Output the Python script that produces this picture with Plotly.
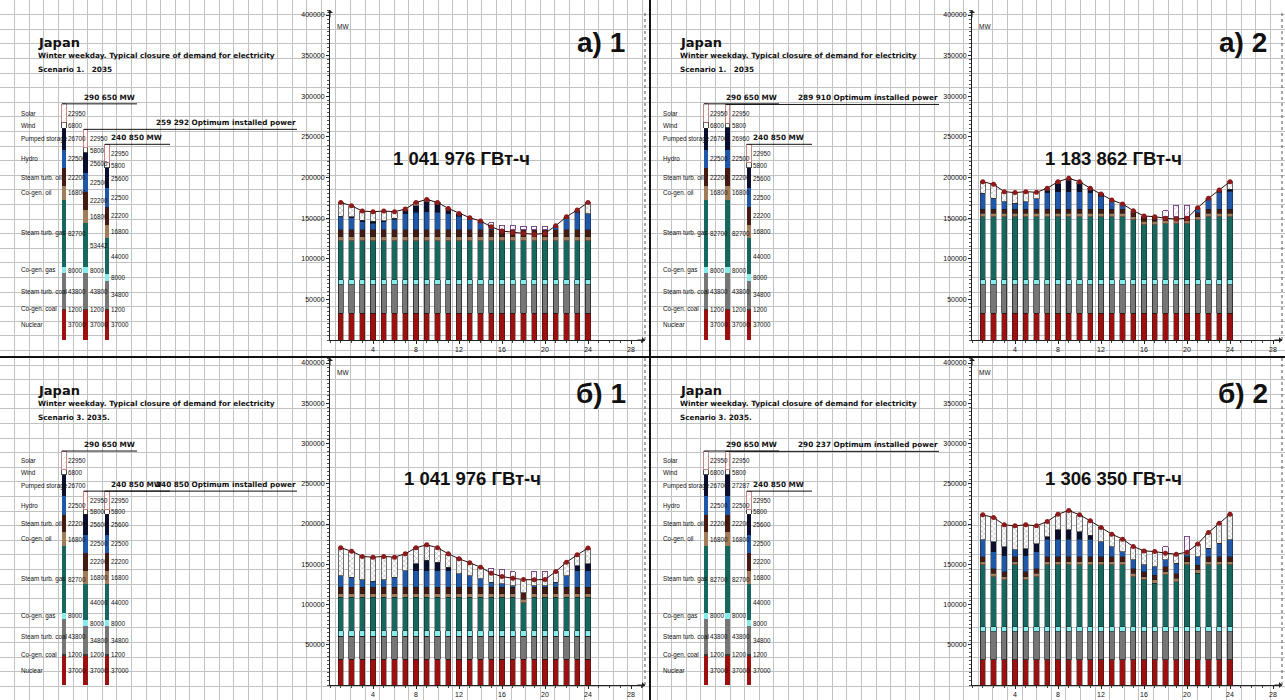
import plotly.graph_objects as go

# ---------------- DATA ----------------
HOURS = [1, 2, 3, 4, 5, 6, 7, 8, 9, 10, 11, 12, 13, 14, 15, 16, 17, 18, 19, 20, 21, 22, 23, 24]
X_TICKS = [4, 8, 12, 16, 20, 24, 28]
Y_TICKS = [50000, 100000, 150000, 200000, 250000, 300000, 350000, 400000]

CATEGORIES = ["Nuclear", "Co-gen. coal", "Steam turb. coal", "Co-gen. gas", "Steam turb. gas",
              "Co-gen. oil", "Steam turb. oil", "Hydro", "Pumped storage", "Wind", "Solar"]
COLUMNS = ["max", "opt", "min"]

# installed capacity columns, bottom -> top, MW
CAP_MAX = [37000, 1200, 43800, 8000, 82700, 16800, 22200, 22500, 26700, 6800, 22950]
CAP_MIN = [37000, 1200, 34800, 8000, 44000, 16800, 22200, 22500, 25600, 5800, 22950]
CAP_OPT_A1 = [37000, 1200, 43800, 8000, 53442, 16800, 22200, 22500, 25600, 5800, 22950]
CAP_OPT_A2 = [37000, 1200, 43800, 8000, 82700, 16800, 22200, 22500, 26960, 5800, 22950]
CAP_OPT_B1 = [37000, 1200, 34800, 8000, 44000, 16800, 22200, 22500, 25600, 5800, 22950]
CAP_OPT_B2 = [37000, 1200, 43800, 8000, 82700, 16800, 22200, 22500, 27287, 5800, 22950]

TITLE = "Japan"
SUBTITLE = "Winter weekday. Typical closure of demand for electricity"
SCENARIOS = ["Scenario 1.   2035", "Scenario 1.   2035", "Scenario 3. 2035.", "Scenario 3. 2035."]
PANEL_LABELS = ["а) 1", "а) 2", "б) 1", "б) 2"]
ENERGY = ["1 041 976 ГВт-ч", "1 183 862 ГВт-ч", "1 041 976 ГВт-ч", "1 306 350 ГВт-ч"]

# ---- panel a) 1 : hourly generation, MW ----
A1_DEMAND = [169300, 165200, 158700, 157900, 158700, 157900, 161100, 169300, 173000, 169300, 162000, 155800,
             150500, 146400, 139400, 134100, 132400, 131200, 130000, 131200, 140700, 151700, 160000, 169300]
A1_NUCLEAR = [33000, 33000, 33000, 33000, 33000, 33000, 33000, 33000, 33000, 33000, 33000, 33000,
              33000, 33000, 33000, 33000, 33000, 33000, 33000, 33000, 33000, 33000, 33000, 33000]
A1_COAL = [34700, 34700, 34700, 34700, 34700, 34700, 34700, 34700, 34700, 34700, 34700, 34700,
           34700, 34700, 34700, 34700, 34700, 34700, 34700, 34700, 34700, 34700, 34700, 34700]
A1_CG_GAS = [6200, 6200, 6200, 6200, 6200, 6200, 6200, 6200, 6200, 6200, 6200, 6200,
             6200, 6200, 6200, 6200, 6200, 6200, 6200, 6200, 6200, 6200, 6200, 6200]
A1_ST_GAS = [48000, 48000, 48000, 48000, 48000, 48000, 48000, 48000, 48000, 48000, 48000, 48000,
             48000, 48000, 48000, 48000, 48000, 48000, 48000, 48000, 48000, 48000, 48000, 48000]
A1_CG_OIL = [5000, 5000, 5000, 5000, 5000, 5000, 5000, 5000, 5000, 5000, 5000, 5000,
             5000, 5000, 5000, 5000, 5000, 5000, 5000, 5000, 5000, 5000, 5000, 5000]
A1_ST_OIL = [8500, 8500, 8500, 8500, 8500, 8500, 8500, 8500, 8500, 8500, 8500, 8500,
             8500, 8500, 8500, 8500, 8500, 8500, 8500, 8500, 8500, 8500, 8500, 8500]
A1_HYDRO = [17000, 15000, 10000, 8000, 10000, 13000, 20000, 22000, 22500, 22000, 20000, 17000,
            13000, 9000, 3000, 0, 0, 0, 0, 0, 5000, 15000, 22000, 20000]
A1_PUMPED = [0, 1000, 2000, 3000, 1500, 1500, 4000, 8000, 12000, 10000, 6000, 3000,
             2000, 1500, 0, 0, 0, 0, 0, 0, 0, 1000, 2000, 0]
A1_RENEW = [16900, 13800, 11300, 11500, 11800, 8000, 1700, 3900, 3100, 1900, 600, 400,
            100, 500, 1000, 0, 0, 0, 0, 0, 300, 300, 600, 13900]
A1_CHARGE = [0, 0, 0, 0, 0, 0, 0, 0, 0, 0, 0, 0,
             0, 0, 5000, 6000, 6000, 4500, 4500, 4500, 0, 0, 0, 0]

# ---- panel a) 2 ----
A2_DEMAND = [194900, 191600, 182600, 181400, 182600, 181800, 186700, 194900, 199000, 194900, 186700, 179700,
             172300, 167400, 159200, 152600, 151800, 149800, 148900, 149800, 162900, 174400, 184600, 194900]
A2_NUCLEAR = [33000, 33000, 33000, 33000, 33000, 33000, 33000, 33000, 33000, 33000, 33000, 33000,
              33000, 33000, 33000, 33000, 33000, 33000, 33000, 33000, 33000, 33000, 33000, 33000]
A2_COAL = [34700, 34700, 34700, 34700, 34700, 34700, 34700, 34700, 34700, 34700, 34700, 34700,
           34700, 34700, 34700, 34700, 34700, 34700, 34700, 34700, 34700, 34700, 34700, 34700]
A2_CG_GAS = [6200, 6200, 6200, 6200, 6200, 6200, 6200, 6200, 6200, 6200, 6200, 6200,
             6200, 6200, 6200, 6200, 6200, 6200, 6200, 6200, 6200, 6200, 6200, 6200]
A2_ST_GAS = [77900, 77900, 77900, 77900, 77900, 77900, 77900, 77900, 77900, 77900, 77900, 77900,
             77900, 77900, 74000, 68000, 68000, 69000, 69000, 69000, 74000, 77900, 77900, 77900]
A2_CG_OIL = [4100, 4100, 4100, 4100, 4100, 4100, 4100, 4100, 4100, 4100, 4100, 4100,
             4100, 4100, 4100, 4100, 4100, 4100, 4100, 4100, 4100, 4100, 4100, 4100]
A2_ST_OIL = [4900, 4900, 4900, 4900, 4900, 4900, 4900, 4900, 4900, 4900, 4900, 4900,
             4900, 4900, 4900, 4900, 4900, 4900, 4900, 4900, 4900, 4900, 4900, 4900]
A2_HYDRO = [19700, 13600, 9500, 7400, 9500, 12800, 20600, 21800, 21800, 21800, 20600, 15900,
            11500, 6600, 2300, 1700, 900, 0, 0, 0, 6000, 13600, 21000, 22000]
A2_PUMPED = [0, 0, 0, 0, 0, 0, 3000, 10000, 14000, 10000, 5000, 3000,
             0, 0, 0, 0, 0, 0, 0, 0, 0, 0, 2800, 3000]
A2_RENEW = [14400, 17200, 12300, 13200, 12300, 8200, 2300, 2300, 2400, 2300, 300, 0,
            0, 0, 0, 0, 0, 0, 0, 0, 0, 0, 0, 9100]
A2_CHARGE = [0, 0, 0, 0, 0, 0, 0, 0, 0, 0, 0, 0,
             0, 0, 0, 0, 0, 7000, 14000, 14000, 0, 0, 0, 0]

# ---- panel б) 1 ----
B1_DEMAND = [170500, 166300, 159700, 158800, 159700, 158800, 163000, 170500, 174200, 170500, 163000, 156800,
             151800, 146400, 138900, 134700, 132600, 131000, 130600, 131000, 141000, 152600, 161700, 170100]
B1_NUCLEAR = [32000, 32000, 32000, 32000, 32000, 32000, 32000, 32000, 32000, 32000, 32000, 32000,
              32000, 32000, 32000, 32000, 32000, 32000, 32000, 32000, 32000, 32000, 32000, 32000]
B1_COAL = [28300, 28300, 28300, 28300, 28300, 28300, 28300, 28300, 28300, 28300, 28300, 28300,
           28300, 28300, 28300, 28300, 28300, 28300, 28300, 28300, 28300, 28300, 28300, 28300]
B1_CG_GAS = [7100, 7100, 7100, 7100, 7100, 7100, 7100, 7100, 7100, 7100, 7100, 7100,
             7100, 7100, 7100, 7100, 7100, 7100, 7100, 7100, 7100, 7100, 7100, 7100]
B1_ST_GAS = [41500, 41500, 41500, 41500, 41500, 41500, 41500, 41500, 41500, 41500, 41500, 41500,
             41500, 41500, 41500, 41500, 41500, 35000, 41500, 41500, 41500, 41500, 41500, 41500]
B1_CG_OIL = [4200, 4200, 4200, 4200, 4200, 4200, 4200, 4200, 4200, 4200, 4200, 4200,
             4200, 4200, 4200, 4200, 4200, 4200, 4200, 4200, 4200, 4200, 4200, 4200]
B1_ST_OIL = [8300, 8300, 8300, 8300, 8300, 8300, 8300, 8300, 8300, 8300, 8300, 8300,
             8300, 8300, 8300, 8300, 8300, 8300, 8300, 8300, 8300, 8300, 8300, 8300]
B1_HYDRO = [14600, 12500, 9200, 7500, 9200, 12500, 20800, 20800, 20800, 20800, 20800, 16600,
            14600, 10400, 6200, 4200, 2100, 0, 2100, 2100, 6200, 14600, 20800, 20800]
B1_PUMPED = [0, 0, 0, 0, 0, 0, 0, 8300, 12500, 10400, 4000, 0,
             0, 0, 0, 0, 0, 0, 0, 0, 0, 0, 6000, 8300]
B1_RENEW = [34500, 32400, 29100, 29900, 29100, 24900, 20800, 20000, 19500, 17900, 16800, 18800,
            15800, 14600, 11300, 9100, 9100, 16100, 7100, 7500, 13400, 16600, 13500, 19600]
B1_CHARGE = [0, 0, 0, 0, 0, 0, 0, 0, 0, 0, 0, 0,
             0, 0, 6200, 8300, 8000, 0, 10400, 10000, 0, 0, 0, 0]

# ---- panel б) 2 ----
B2_DEMAND = [211400, 208100, 199000, 197700, 199000, 197700, 203100, 212200, 216800, 211400, 203900, 195600,
             187400, 181200, 172000, 166600, 165800, 163700, 162500, 165000, 175300, 189400, 201000, 212200]
B2_NUCLEAR = [31100, 31100, 31100, 31100, 31100, 31100, 31100, 31100, 31100, 31100, 31100, 31100,
              31100, 31100, 31100, 31100, 31100, 31100, 31100, 31100, 31100, 31100, 31100, 31100]
B2_COAL = [35200, 35200, 35200, 35200, 35200, 35200, 35200, 35200, 35200, 35200, 35200, 35200,
           35200, 35200, 35200, 35200, 35200, 35200, 35200, 35200, 35200, 35200, 35200, 35200]
B2_CG_GAS = [6200, 6200, 6200, 6200, 6200, 6200, 6200, 6200, 6200, 6200, 6200, 6200,
             6200, 6200, 6200, 6200, 6200, 6200, 6200, 6200, 6200, 6200, 6200, 6200]
B2_ST_GAS = [76700, 62200, 58100, 76700, 58100, 62200, 76700, 76700, 76700, 76700, 76700, 76700,
             76700, 76700, 62200, 58100, 53900, 64300, 56000, 76700, 66400, 76700, 76700, 76700]
B2_CG_OIL = [4100, 4100, 4100, 4100, 4100, 4100, 4100, 4100, 4100, 4100, 4100, 4100,
             4100, 4100, 4100, 4100, 4100, 4100, 4100, 4100, 4100, 4100, 4100, 4100]
B2_ST_OIL = [5900, 5900, 5900, 5900, 5900, 5900, 5900, 5900, 5900, 5900, 5900, 5900,
             5900, 5900, 5900, 5900, 5900, 5900, 5900, 5900, 5900, 5900, 5900, 5900]
B2_HYDRO = [21100, 21000, 20000, 8700, 20000, 21000, 21900, 22000, 22000, 22000, 22000, 19000,
            12800, 6600, 10700, 8600, 10700, 8600, 12800, 2500, 10700, 10700, 17000, 21100]
B2_PUMPED = [0, 12500, 11400, 0, 8600, 9500, 3000, 11500, 11500, 9000, 5000, 0,
             0, 0, 0, 0, 0, 0, 0, 0, 0, 0, 0, 0]
B2_RENEW = [31100, 29900, 27000, 29800, 29800, 22500, 19000, 19500, 24100, 21200, 17700, 17400,
            15400, 15400, 16600, 17400, 18700, 8300, 11200, 3300, 15700, 19500, 24800, 31900]
B2_CHARGE = [0, 0, 0, 0, 0, 0, 0, 0, 0, 0, 0, 0,
             0, 0, 0, 0, 0, 8300, 0, 19500, 0, 0, 0, 0]

# ---------------- STYLE / LAYOUT ----------------
W, H = 1285, 700
COLORS = {
    "Nuclear": "#9c1010", "Co-gen. coal": "#3a3a3a", "Steam turb. coal": "#767676",
    "Co-gen. gas": "#86ecec", "Steam turb. gas": "#17675f", "Co-gen. oil": "#a07c5a",
    "Steam turb. oil": "#451a12", "Hydro": "#1f58a8", "Pumped storage": "#0a0f30",
    "Wind": "#ffffff", "Solar": "#ffffff",
}
HOURLY_KEYS = ["Nuclear", "Steam turb. coal", "Co-gen. gas", "Steam turb. gas", "Co-gen. oil",
               "Steam turb. oil", "Hydro", "Pumped storage"]

panels = [
    dict(cap=[CAP_MAX, CAP_OPT_A1, CAP_MIN], demand=A1_DEMAND,
         series=[A1_NUCLEAR, A1_COAL, A1_CG_GAS, A1_ST_GAS, A1_CG_OIL, A1_ST_OIL, A1_HYDRO, A1_PUMPED],
         renew=A1_RENEW, charge=A1_CHARGE),
    dict(cap=[CAP_MAX, CAP_OPT_A2, CAP_MIN], demand=A2_DEMAND,
         series=[A2_NUCLEAR, A2_COAL, A2_CG_GAS, A2_ST_GAS, A2_CG_OIL, A2_ST_OIL, A2_HYDRO, A2_PUMPED],
         renew=A2_RENEW, charge=A2_CHARGE),
    dict(cap=[CAP_MAX, CAP_OPT_B1, CAP_MIN], demand=B1_DEMAND,
         series=[B1_NUCLEAR, B1_COAL, B1_CG_GAS, B1_ST_GAS, B1_CG_OIL, B1_ST_OIL, B1_HYDRO, B1_PUMPED],
         renew=B1_RENEW, charge=B1_CHARGE),
    dict(cap=[CAP_MAX, CAP_OPT_B2, CAP_MIN], demand=B2_DEMAND,
         series=[B2_NUCLEAR, B2_COAL, B2_CG_GAS, B2_ST_GAS, B2_CG_OIL, B2_ST_OIL, B2_HYDRO, B2_PUMPED],
         renew=B2_RENEW, charge=B2_CHARGE),
]

ORIGINS = [(0, 0), (642, 0), (0, 347), (642, 347)]
ROW_PX = {0: (340, 10, 325.0), 1: (685, 358, 322.0)}   # bottom px, top px, px per 400000
CHART_LEFT = 330
CHART_RIGHT = [645, 640, 645, 640]
HOUR_PX = 10.75
COL_PX = [64, 86, 107]
COL_UNIT = 21.5
ENERGY_POS = [(461, 158), (471, 158), (472, 131), (471, 131)]
LABEL_POS = [(601, 43), (601, 43), (601, 46), (601, 46)]

TXT_FONT = "Liberation Sans"
TITLE_FONT = "DejaVu Sans"


def px(x):
    return x / W


def py(y):
    return 1 - y / H


def fmt(v):
    return f"{v:,}".replace(",", " ")


fig = go.Figure()
layout = dict(
    width=W, height=H, margin=dict(l=0, r=0, t=0, b=0),
    paper_bgcolor="white", plot_bgcolor="rgba(0,0,0,0)",
    barmode="stack", showlegend=False,
    xaxis=dict(domain=[0, 1], range=[0, W], tick0=0, dtick=14.6, showgrid=True, gridcolor="#c2c2c2",
               gridwidth=1, showticklabels=False, zeroline=False, ticks="", fixedrange=True),
    yaxis=dict(domain=[0, 1], range=[H, 0], tick0=0, dtick=14.6, showgrid=True, gridcolor="#c2c2c2",
               gridwidth=1, showticklabels=False, zeroline=False, ticks="", fixedrange=True),
)
# invisible trace so the background grid axes are drawn
fig.add_trace(go.Scatter(x=[0], y=[0], mode="markers", marker=dict(size=0.1, color="rgba(0,0,0,0)"),
                         hoverinfo="skip", xaxis="x", yaxis="y"))

annotations = []
shapes = []

for i, p in enumerate(panels):
    ox, oy = ORIGINS[i]
    row = 0 if oy == 0 else 1
    bot, top, scale400 = ROW_PX[row]
    ytop_val = (bot - top) * 400000 / scale400
    ydom = [py(bot), py(top)]
    lid, rid = 2 + 2 * i, 3 + 2 * i
    cr = CHART_RIGHT[i]

    # left capacity subplot (categorical columns)
    x0u = -COL_PX[0] / COL_UNIT
    layout[f"xaxis{lid}"] = dict(domain=[px(ox), px(ox + CHART_LEFT)], range=[x0u, x0u + CHART_LEFT / COL_UNIT],
                                 type="category", categoryarray=COLUMNS, visible=False, fixedrange=True,
                                 anchor=f"y{lid}")
    layout[f"yaxis{lid}"] = dict(domain=ydom, range=[0, ytop_val], visible=False, fixedrange=True,
                                 anchor=f"x{lid}")
    # right hourly subplot
    xr = (cr - CHART_LEFT) / HOUR_PX
    layout[f"xaxis{rid}"] = dict(domain=[px(ox + CHART_LEFT), px(ox + cr)], range=[0, xr],
                                 tickvals=X_TICKS, ticks="outside", ticklen=3, tickcolor="#222",
                                 showline=True, linecolor="#222", linewidth=1, showgrid=False, zeroline=False,
                                 tickfont=dict(family=TXT_FONT, size=7, color="#111"),
                                 minor=dict(dtick=1, tick0=0, ticks="outside", ticklen=2, tickcolor="#444"),
                                 anchor=f"y{rid}", fixedrange=True)
    layout[f"yaxis{rid}"] = dict(domain=ydom, range=[0, ytop_val], tickvals=Y_TICKS, tickformat="d",
                                 ticks="outside", ticklen=3, tickcolor="#222", showline=True, linecolor="#222",
                                 linewidth=1, showgrid=False, zeroline=False,
                                 tickfont=dict(family=TXT_FONT, size=7, color="#111"),
                                 minor=dict(dtick=5000, tick0=0, ticks="outside", ticklen=2, tickcolor="#555"),
                                 anchor=f"x{rid}", fixedrange=True)

    # ---- capacity columns ----
    caps = p["cap"]
    for k, cat in enumerate(CATEGORIES):
        vals = [c[k] for c in caps]
        if cat == "Solar":
            marker = dict(color="white", line=dict(color="#b86a6a", width=0.8),
                          pattern=dict(shape="/", fgcolor="#d49a9a", size=4, solidity=0.15))
        elif cat == "Wind":
            marker = dict(color="white", line=dict(color="#222", width=0.8))
        else:
            marker = dict(color=COLORS[cat], line=dict(width=0))
        fig.add_trace(go.Bar(x=COLUMNS, y=vals, width=0.2, marker=marker, name=cat,
                             xaxis=f"x{lid}", yaxis=f"y{lid}", hoverinfo="skip"))
    # numbers next to columns + category labels
    for ci, c in enumerate(caps):
        base = 0
        for k, v in enumerate(c):
            yc = base + v / 2
            base += v
            annotations.append(dict(x=ci + 0.11, y=yc, xref=f"x{lid}", yref=f"y{lid}", text=str(v),
                                    showarrow=False, xanchor="left", yanchor="middle",
                                    font=dict(family=TXT_FONT, size=6.3, color="#111")))
            if ci == 0:
                annotations.append(dict(x=px(ox + 19), y=yc, xref="paper", yref=f"y{lid}", text=CATEGORIES[k],
                                        showarrow=False, xanchor="left", yanchor="middle",
                                        font=dict(family=TXT_FONT, size=6.3, color="#111")))
    tot = [sum(c) for c in caps]
    # total lines and captions
    line_ends = [(COL_PX[0] - 2.2, 137), (COL_PX[1] - 2.2, 297), (COL_PX[2] - 2.2, 170)]
    for ci in range(3):
        shapes.append(dict(type="line", xref="paper", yref=f"y{lid}", x0=px(ox + line_ends[ci][0]),
                           x1=px(ox + line_ends[ci][1]), y0=tot[ci], y1=tot[ci],
                           line=dict(color="#111", width=1)))
    cap_font = dict(family=TITLE_FONT, size=7.3, color="#111")
    annotations.append(dict(x=px(ox + 82), y=tot[0], xref="paper", yref=f"y{lid}", text=f"<b>{fmt(tot[0])} MW</b>",
                            showarrow=False, xanchor="left", yanchor="bottom", font=cap_font))
    annotations.append(dict(x=px(ox + 298), y=tot[1], xref="paper", yref=f"y{lid}",
                            text=f"<b>{fmt(tot[1])} Optimum installed power</b>",
                            showarrow=False, xanchor="right", yanchor="bottom", font=cap_font))
    annotations.append(dict(x=px(ox + 109), y=tot[2], xref="paper", yref=f"y{lid}", text=f"<b>{fmt(tot[2])} MW</b>",
                            showarrow=False, xanchor="left", yanchor="bottom", font=cap_font))

    # ---- hourly stacked generation ----
    for k, key in enumerate(HOURLY_KEYS):
        lw = 0.7 if key in ("Steam turb. coal", "Co-gen. gas") else 0.4
        fig.add_trace(go.Bar(x=HOURS, y=p["series"][k], width=0.47,
                             marker=dict(color=COLORS[key], line=dict(color="#1a1a1a", width=lw)),
                             name=key, xaxis=f"x{rid}", yaxis=f"y{rid}", hoverinfo="skip"))
    fig.add_trace(go.Bar(x=HOURS, y=p["renew"], width=0.47, name="Wind + Solar",
                         marker=dict(color="white", line=dict(color="#333", width=0.7),
                                     pattern=dict(shape="x", fgcolor="#333", size=3.5, solidity=0.25)),
                         xaxis=f"x{rid}", yaxis=f"y{rid}", hoverinfo="skip"))
    fig.add_trace(go.Bar(x=HOURS, y=p["charge"], width=0.47, name="Storage charge",
                         marker=dict(color="white", line=dict(color="#6a3a7a", width=0.9),
                                     pattern=dict(shape="/", fgcolor="#9a6aa8", size=4, solidity=0.2)),
                         xaxis=f"x{rid}", yaxis=f"y{rid}", hoverinfo="skip"))
    fig.add_trace(go.Scatter(x=HOURS, y=p["demand"], mode="lines+markers", name="Demand",
                             line=dict(color="#2a0a0a", width=1),
                             marker=dict(size=5, color="#8e1a1a", line=dict(width=0)),
                             xaxis=f"x{rid}", yaxis=f"y{rid}", hoverinfo="skip"))

    # axis arrows and dotted right border
    annotations.append(dict(x=0, y=ytop_val, xref=f"x{rid}", yref=f"y{rid}", text="", showarrow=True,
                            ax=0, ay=9, arrowhead=1, arrowsize=1, arrowwidth=1, arrowcolor="#222"))
    annotations.append(dict(x=xr, y=0, xref=f"x{rid}", yref=f"y{rid}", text="", showarrow=True,
                            ax=-9, ay=0, arrowhead=1, arrowsize=1, arrowwidth=1, arrowcolor="#222"))
    shapes.append(dict(type="line", xref=f"x{rid} domain", yref=f"y{rid} domain", x0=1, x1=1, y0=0, y1=1,
                       line=dict(color="#555", width=1, dash="dot")))

    # texts
    annotations.append(dict(x=px(ox + 343), y=py(oy + 26), xref="paper", yref="paper", text="MW",
                            showarrow=False, xanchor="center", yanchor="middle",
                            font=dict(family=TXT_FONT, size=6.5, color="#111")))
    annotations.append(dict(x=px(ox + 36), y=py(oy + 43), xref="paper", yref="paper", text=f"<b>{TITLE}</b>",
                            showarrow=False, xanchor="left", yanchor="middle",
                            font=dict(family=TITLE_FONT, size=13, color="#111")))
    annotations.append(dict(x=px(ox + 36), y=py(oy + 56), xref="paper", yref="paper", text=f"<b>{SUBTITLE}</b>",
                            showarrow=False, xanchor="left", yanchor="middle",
                            font=dict(family=TITLE_FONT, size=7.3, color="#111")))
    annotations.append(dict(x=px(ox + 36), y=py(oy + 70), xref="paper", yref="paper",
                            text=f"<b>{SCENARIOS[i]}</b>".replace("   ", "&nbsp;&nbsp;&nbsp;"),
                            showarrow=False, xanchor="left", yanchor="middle",
                            font=dict(family=TITLE_FONT, size=7.3, color="#111")))
    lx, ly = LABEL_POS[i]
    annotations.append(dict(x=px(ox + lx), y=py(oy + ly), xref="paper", yref="paper", text=f"<b>{PANEL_LABELS[i]}</b>",
                            showarrow=False, xanchor="center", yanchor="middle",
                            font=dict(family=TXT_FONT, size=28, color="#111")))
    ex, ey = ENERGY_POS[i]
    annotations.append(dict(x=px(ox + ex), y=py(oy + ey), xref="paper", yref="paper", text=f"<b>{ENERGY[i]}</b>",
                            showarrow=False, xanchor="center", yanchor="middle",
                            font=dict(family=TXT_FONT, size=18.5, color="#111")))

# panel separators
shapes.append(dict(type="line", xref="paper", yref="paper", x0=0, x1=1, y0=py(357), y1=py(357),
                   line=dict(color="#111", width=2)))
shapes.append(dict(type="line", xref="paper", yref="paper", x0=px(650), x1=px(650), y0=0, y1=1,
                   line=dict(color="#111", width=2)))

layout["annotations"] = annotations
layout["shapes"] = shapes
fig.update_layout(**layout)
fig.write_html("out.html", config={"displayModeBar": False},
               post_script="document.body.style.margin='0px';document.body.style.overflow='hidden';")
